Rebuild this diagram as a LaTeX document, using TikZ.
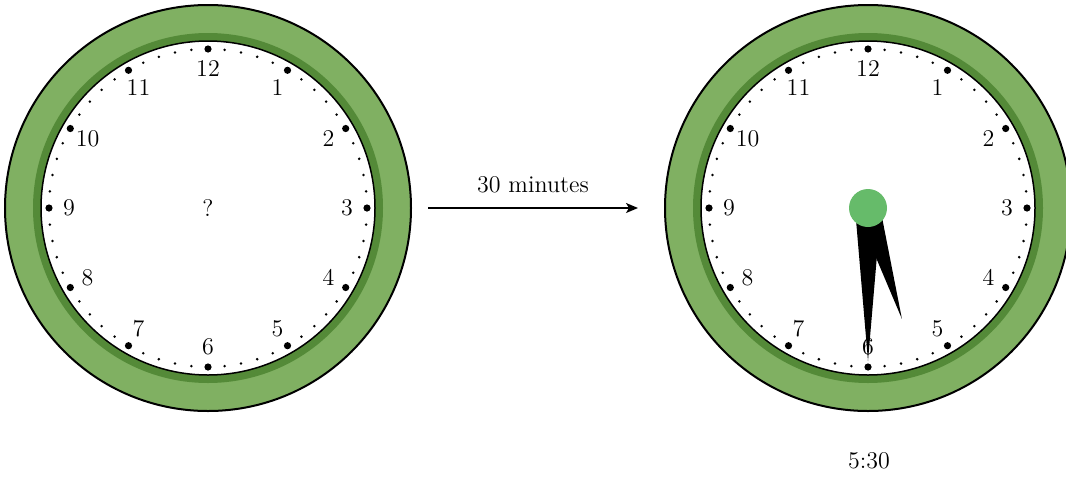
\documentclass[tikz,border=0pt]{standalone}
\usepackage{fontspec}
\usepackage{tikz}
\usetikzlibrary{arrows.meta,positioning,calc}

\definecolor{ringlight}{RGB}{128,176,98}
\definecolor{ringdark}{RGB}{84,138,56}
\definecolor{hubgreen}{RGB}{102,187,106}

\tikzset{
  rim/.style={fill=ringlight,draw=black,line width=1pt},
  face/.style={fill=white,draw=black,line width=0.75pt},
  numlabel/.style={inner sep=0pt,font=\fontsize{12}{14}\selectfont},
  hand/.style={fill=black}
}

\begin{document}
\begin{tikzpicture}[x=0.5pt,y=0.5pt]
	  \useasboundingbox (0,0) rectangle (1066,479);
	  \coordinate (L) at (208,271);
	  \coordinate (R) at (868,271);
	  % both clock faces
	  \foreach \c in {L,R} {
	    \fill[rim] (\c) circle (203);
	    \fill[ringdark] (\c) circle (175);
	    \filldraw[face] (\c) circle (167);
	    \foreach \m in {0,...,59}
	      \fill (\c) ++(90-6*\m:159) circle (1.4);
	    \foreach \h in {1,...,12} {
	      \fill (\c) ++(90-30*\h:159) circle (3.6);
	      \node[numlabel] (\c\h) at ($(\c)+(90-30*\h:139)$) {\h};
	    }
	  }
	  \node[numlabel] (Q) at (L) {?};
	  % hands at 5:30
	  \begin{scope}[shift={(R)},rotate=17]
	    \fill[hand] (-12,0) -- (0,-116) -- (12,0) -- cycle;
	  \end{scope}
	  \begin{scope}[shift={(R)}]
	    \fill[hand] (-13,0) -- (0,-153) -- (13,0) -- cycle;
	  \end{scope}
	  \fill[hubgreen] (R) circle (19);
	  \node[numlabel] (T) at (869,18) {5:30};
	  % arrow between the clocks
	  \coordinate (A1) at (428,271);
	  \coordinate (A2) at (638,271);
	  \draw[-{Stealth[length=6pt,width=5pt,inset=1.5pt]},line width=0.7pt] (A1) -- node[numlabel,above=7pt] (M) {30 minutes} (A2);
\end{tikzpicture}
\end{document}
